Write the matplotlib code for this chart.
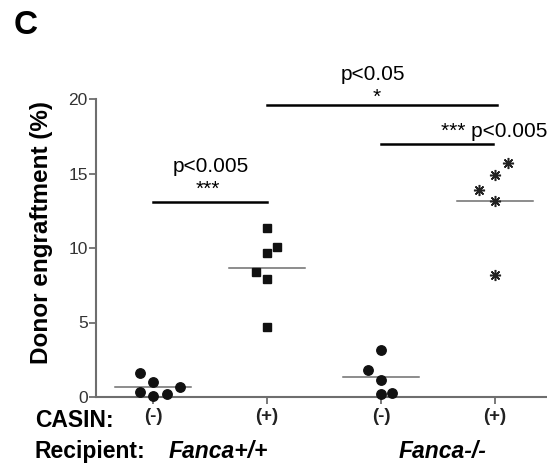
import matplotlib

matplotlib.use("Agg")
import matplotlib.pyplot as plt
import numpy as np

plt.rcParams["font.family"] = ["Liberation Sans", "DejaVu Sans"]

# engraftment values (%)
wt_minus_x = [0.89, 1.0, 0.89, 1.0, 1.12, 1.24]
wt_minus = [1.6, 1.0, 0.35, 0.05, 0.2, 0.65]
wt_plus_x = [2.0, 2.09, 2.0, 1.90, 2.0, 2.0]
wt_plus = [11.35, 10.1, 9.65, 8.4, 7.9, 4.7]
ko_minus_x = [3.0, 2.89, 3.0, 3.0, 3.10]
ko_minus = [3.15, 1.8, 1.15, 0.2, 0.25]
ko_plus_x = [4.11, 4.0, 3.86, 4.0, 4.0]
ko_plus = [15.7, 14.9, 13.9, 13.15, 8.2]

casin_labels = ["(-)", "(+)", "(-)", "(+)"]
groups_x = [1, 2, 3, 4]

W, H = 547, 463
fig = plt.figure(figsize=(W / 100, H / 100), dpi=100)
ax = fig.add_axes([96 / W, (H - 397) / H, 1 - 96 / W, 298 / H])

grey = "#6e6e6e"
ax.plot(wt_minus_x, wt_minus, "o", color="#111111", ms=6.8, clip_on=False, zorder=3)
ax.plot(wt_plus_x, wt_plus, "s", color="#111111", ms=6, clip_on=False, zorder=3)
ax.plot(ko_minus_x, ko_minus, "o", color="#111111", ms=6.8, clip_on=False, zorder=3)
ax.plot(ko_plus_x, ko_plus, marker=(8, 2, 0), ls="none", color="#222222",
        ms=8, mew=1.1, clip_on=False, zorder=3)

# mean lines
for gx, vals in zip(groups_x, [wt_minus, wt_plus, ko_minus, ko_plus]):
    ax.plot([gx - 0.33, gx + 0.33], [np.mean(vals)] * 2, color=grey, lw=1.1, zorder=2)

# significance bars
bar_kw = dict(color="black", lw=1.8, clip_on=False)
ax.plot([1.0, 2.0], [13.1, 13.1], **bar_kw)
ax.plot([2.0, 4.02], [19.6, 19.6], **bar_kw)
ax.plot([3.0, 3.98], [17.0, 17.0], **bar_kw)

ax.text(1.51, 14.8, "p<0.005", ha="center", va="bottom", fontsize=15)
ax.text(1.48, 13.3, "***", ha="center", va="bottom", fontsize=15)
ax.text(2.93, 21.0, "p<0.05", ha="center", va="bottom", fontsize=15, clip_on=False)
ax.text(2.96, 19.45, "*", ha="center", va="bottom", fontsize=15, clip_on=False)
ax.text(4.455, 17.2, "*** p<0.005", ha="right", va="bottom", fontsize=15, clip_on=False)

ax.set_xlim(0.5, 4.456)
ax.set_ylim(0, 20)
ax.set_yticks([0, 5, 10, 15, 20])
ax.set_xticks(groups_x)
ax.set_xticklabels(casin_labels, fontsize=13.5, fontweight="bold", color="#222222")
ax.tick_params(axis="y", labelsize=12.5, labelcolor="#333333", color=grey, width=1.3,
               length=5, pad=1)
ax.tick_params(axis="x", color=grey, width=1.3, length=5, pad=3)
for side in ["top", "right"]:
    ax.spines[side].set_visible(False)
for side in ["left", "bottom"]:
    ax.spines[side].set_color(grey)
    ax.spines[side].set_linewidth(1.5)

fig.text(42 / W, 1 - 232 / H, "Donor engraftment (%)", fontsize=17.5, fontweight="bold",
         rotation=90, ha="center", va="center")

fig.text(14 / W, 1 - 26 / H, "C", fontsize=24, fontweight="bold", va="center")
fig.text(35 / W, 1 - 427 / H, "CASIN:", fontsize=16.5, fontweight="bold", va="baseline")
fig.text(35 / W, 1 - 458 / H, "Recipient:", fontsize=16.5, fontweight="bold", va="baseline")
fig.text(218 / W, 1 - 458 / H, "Fanca+/+", fontsize=16.5, fontweight="bold",
         style="italic", va="baseline", ha="center")
fig.text(443 / W, 1 - 458 / H, "Fanca-/-", fontsize=16.5, fontweight="bold",
         style="italic", va="baseline", ha="center")

fig.savefig("out.png", dpi=100)
